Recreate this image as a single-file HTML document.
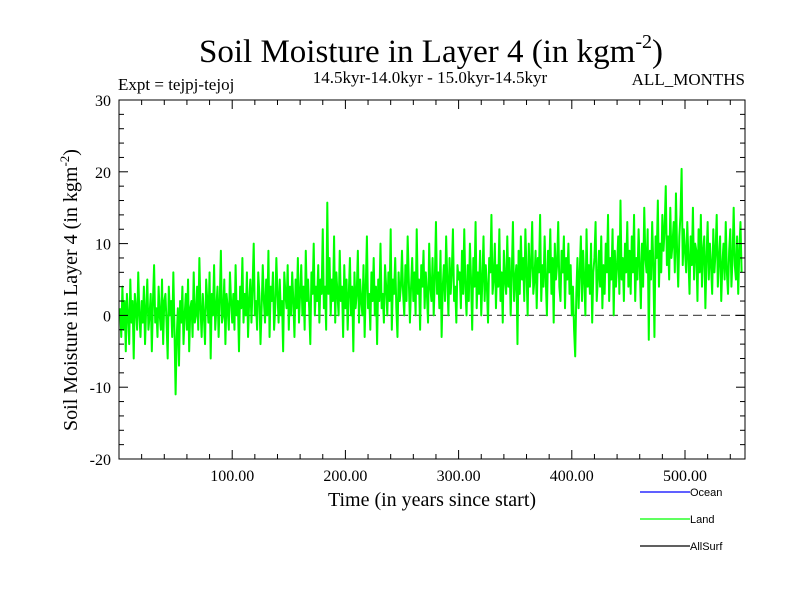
<!DOCTYPE html>
<html><head><meta charset="utf-8"><style>
body{margin:0;background:#fff}
svg{display:block}
text{font-family:"Liberation Serif",serif;fill:#000}
.leg{font-family:"Liberation Sans",sans-serif;font-size:11px}
</style></head><body>
<svg id="chart" width="800" height="600" xmlns="http://www.w3.org/2000/svg">
<text x="431" y="62" font-size="33" text-anchor="middle">Soil Moisture in Layer 4 (in kgm<tspan font-size="20" dy="-14">-2</tspan><tspan dy="14">)</tspan></text>
<text x="118" y="90" font-size="17">Expt = tejpj-tejoj</text>
<text x="430" y="83" font-size="17" text-anchor="middle">14.5kyr-14.0kyr - 15.0kyr-14.5kyr</text>
<text x="745" y="85" font-size="17" text-anchor="end">ALL_MONTHS</text>
<text transform="translate(77,290) rotate(-90)" font-size="20" text-anchor="middle">Soil Moisture in Layer 4 (in kgm<tspan font-size="13" dy="-8">-2</tspan><tspan dy="8">)</tspan></text>
<text x="432" y="506" font-size="20" text-anchor="middle">Time (in years since start)</text>
<g id="plot"></g>
<g>
<line x1="640" y1="492" x2="690" y2="492" stroke="#0000ff" stroke-width="1.3"/>
<text class="leg" x="690" y="496">Ocean</text>
<line x1="640" y1="519" x2="690" y2="519" stroke="#00ff00" stroke-width="1.3"/>
<text class="leg" x="690" y="523">Land</text>
<line x1="640" y1="546" x2="690" y2="546" stroke="#000" stroke-width="1.3"/>
<text class="leg" x="690" y="550">AllSurf</text>
</g>
</svg>
<script>
const xTicks=[100,200,300,400,500];
const xTickLabels=["100.00","200.00","300.00","400.00","500.00"];
const yTicks=[-20,-10,0,10,20,30];
const yTickLabels=["-20","-10","0","10","20","30"];
const landValues=[
1,-3,4,-2,2,-5,3,0,-4,5,-1,2,-6,3,1,-2,6,0,-3,2,-1,4,-4,1,5,-2,0,3,-5,2,7,-1,1,-3,4,0,-2,5,-4,2,3,-1,-6,4,0,2,-3,6,-2,-11,
-3,1,-7,2,-1,4,-4,0,3,-2,5,-5,1,2,-3,6,-1,0,4,-2,8,1,-3,3,0,-4,5,2,-1,6,-6,3,0,7,-2,1,4,-3,2,9,-1,0,5,-4,3,1,-2,6,2,-1,
3,-2,7,0,2,-5,4,1,8,-1,3,0,6,-3,2,5,-1,4,10,0,2,-2,6,3,-4,1,7,2,-1,5,0,9,-3,4,2,6,-2,1,8,3,-1,5,0,2,-5,6,3,1,7,-2,
4,0,6,2,-3,5,1,8,-1,3,7,0,4,-2,9,2,5,1,-4,6,3,10,0,4,2,7,-1,5,3,12,1,4,-2,15.7,3,8,0,5,2,11,-1,6,3,0,9,2,4,-3,7,1,
5,-2,3,8,0,4,-5,6,1,3,9,-1,5,2,0,7,-3,4,11,1,3,-2,6,2,8,0,4,-4,5,2,10,1,3,-1,7,4,0,6,2,12,-2,5,3,8,1,-3,6,2,4,9,
3,0,7,2,11,5,-1,4,8,2,6,0,12,3,5,-2,7,4,9,1,6,3,-1,10,4,2,8,0,5,13,3,6,1,9,-3,4,7,2,11,5,0,8,3,6,12,2,4,-1,7,5,
6,1,9,3,12,4,0,7,2,10,5,-2,8,4,13,1,6,3,9,0,5,11,2,7,4,-1,8,6,14,3,5,10,1,7,4,12,2,6,-1,9,5,3,11,4,8,0,6,13,2,5,
7,-4,9,3,11,5,8,2,12,6,0,10,4,7,13,3,5,9,1,8,6,14,2,7,4,11,5,0,9,6,12,3,8,-1,10,5,7,13,4,2,9,6,11,1,8,5,10,3,7,0,
4,-2,-5.7,3,8,1,6,11,2,9,5,0,12,4,7,3,10,-1,6,8,13,2,5,9,4,11,1,7,3,10,6,14,2,8,5,12,0,9,4,7,11,3,16,5,8,2,10,6,13,4,
9,3,11,6,14,2,8,5,12,7,1,10,4,15,8,6,12,-3.4,9,5,13,7,-3,11,8,16,4,10,6,14,9,12,18,7,11,5,15,8,10,13,6,17,9,4,11,14,20.4,7,12,9,
6,13,8,3,11,7,15,5,10,9,2,12,6,14,4,9,11,1,8,13,5,10,7,3,12,6,9,14,4,8,11,2,7,10,5,13,6,3,9,12,4,8,15,7,5,11,3,9,13,6];

const L=119,R=745,T=100,B=459,X0=0,X1=553,Y0=-20,Y1=30;
const sx=v=>L+(v-X0)/(X1-X0)*(R-L);
const sy=v=>B-(v-Y0)/(Y1-Y0)*(B-T);
const NS="http://www.w3.org/2000/svg";
const g=document.getElementById('plot');
function mk(t,a){const e=document.createElementNS(NS,t);for(const k in a)e.setAttribute(k,a[k]);g.appendChild(e);return e;}

const z=mk('line',{x1:L,x2:R,y1:sy(0),y2:sy(0),stroke:'#555','stroke-width':1.2,'stroke-dasharray':'9,5'});



let d='';
landValues.forEach((v,i)=>{d+=(i?'L':'M')+sx(i+1).toFixed(2)+','+sy(v).toFixed(2);});
const p=mk('path',{d:d,fill:'none',stroke:'#00ff00','stroke-width':2,'stroke-linejoin':'round'});



const f=mk('rect',{x:L,y:T,width:R-L,height:B-T,fill:'none',stroke:'#000','stroke-width':1});



for(let v=Y0;v<=Y1;v+=2){
  const major=v%10===0,len=major?9:5;
  mk('line',{x1:L,x2:L+len,y1:sy(v),y2:sy(v),stroke:'#000'});
  mk('line',{x1:R,x2:R-len,y1:sy(v),y2:sy(v),stroke:'#000'});
}
yTicks.forEach((v,i)=>{
  const t=mk('text',{x:L-8,y:sy(v)+6,'font-size':16,'text-anchor':'end'});
  t.textContent=yTickLabels[i];
  
  
});
for(let v=20;v<X1;v+=20){
  const major=v%100===0,len=major?9:5;
  mk('line',{x1:sx(v),x2:sx(v),y1:B,y2:B-len,stroke:'#000'});
  mk('line',{x1:sx(v),x2:sx(v),y1:T,y2:T+len,stroke:'#000'});
}
xTicks.forEach((v,i)=>{
  const t=mk('text',{x:sx(v),y:B+22,'font-size':16,'text-anchor':'middle'});
  t.textContent=xTickLabels[i];
  
  
});
</script>
</body></html>
